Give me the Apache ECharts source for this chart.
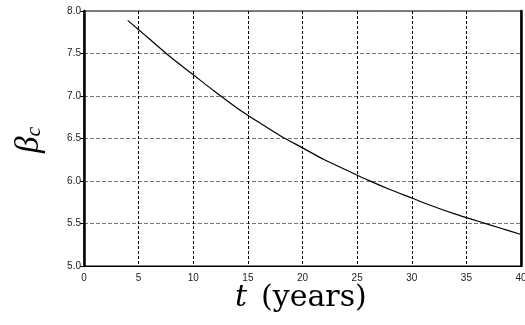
<!DOCTYPE html>
<html><head><meta charset="utf-8">
<script src="https://cdn.jsdelivr.net/npm/echarts@6/dist/echarts.min.js"></script>
<style>html,body{margin:0;padding:0;background:#fff}#c{width:525px;height:325px}</style>
</head><body><div id="c"></div>
<script>
const tYears = [4, 5, 6, 8, 10, 12, 14, 16, 18, 20, 22, 24, 26, 28, 30, 32, 34, 36, 38, 40];
const betaC  = [7.89, 7.78, 7.67, 7.45, 7.25, 7.05, 6.86, 6.69, 6.53, 6.39, 6.25, 6.13, 6.01, 5.90, 5.80, 5.70, 5.61, 5.53, 5.45, 5.37];
const xTicks = [0, 5, 10, 15, 20, 25, 30, 35, 40];
const yTicks = [5.0, 5.5, 6.0, 6.5, 7.0, 7.5, 8.0];

const chart = echarts.init(document.getElementById('c'), null, {renderer: 'canvas'});
chart.setOption({
  animation: false,
  grid: {left: 84, right: 4, top: 11, bottom: 59, show: true, borderColor: '#000', borderWidth: 1,
         containLabel: false, outerBoundsMode: 'none'},
  xAxis: {
    type: 'value', min: xTicks[0], max: xTicks[xTicks.length - 1], interval: 5,
    axisLine: {show: true, lineStyle: {color: '#000', width: 1}},
    axisTick: {show: false},
    axisLabel: {color: '#222', fontSize: 10, fontFamily: 'Liberation Sans', margin: 7, hideOverlap: false},
    splitLine: {show: true, lineStyle: {color: '#000', width: 1, type: [3, 2]}}
  },
  yAxis: [{
    type: 'value', min: yTicks[0], max: yTicks[yTicks.length - 1], interval: 0.5,
    axisLine: {show: true, lineStyle: {color: '#000', width: 2.5}},
    axisTick: {show: true, length: 4, lineStyle: {color: '#000', width: 1}},
    axisLabel: {color: '#222', fontSize: 10, fontFamily: 'Liberation Sans', margin: 3,
      formatter: v => v.toFixed(1)},
    splitLine: {show: true, lineStyle: {color: '#777', width: 1, type: [4, 2]}}
  }, {
    type: 'value', position: 'right', min: yTicks[0], max: yTicks[yTicks.length - 1], interval: 0.5,
    axisLine: {show: true, lineStyle: {color: '#000', width: 2.5}},
    axisTick: {show: false}, axisLabel: {show: false}, splitLine: {show: false}
  }],
  series: [{
    type: 'line', data: tYears.map((t, i) => [t, betaC[i]]),
    smooth: 0.3, showSymbol: false,
    lineStyle: {color: '#000', width: 1.2}
  }],
  graphic: [{
    type: 'text', left: 235, top: 283,
    style: {
      text: '{i|t}{n|(years)}',
      rich: {
        i: {fontFamily: 'DejaVu Serif', fontStyle: 'italic', fontSize: 30, fill: '#000', padding: [0, 14, 0, 0]},
        n: {fontFamily: 'DejaVu Serif', fontSize: 30, fill: '#000'}
      }
    }
  }, {
    type: 'text', x: 13, y: 153, rotation: Math.PI / 2,
    style: {
      text: '{b|β}{s|c}',
      rich: {
        b: {fontFamily: 'Liberation Serif', fontStyle: 'italic', fontSize: 33, fill: '#000'},
        s: {fontFamily: 'Liberation Serif', fontStyle: 'italic', fontSize: 22, fill: '#000', padding: [10, 0, 0, 0]}
      }
    }
  }]
});
</script>
</body></html>
